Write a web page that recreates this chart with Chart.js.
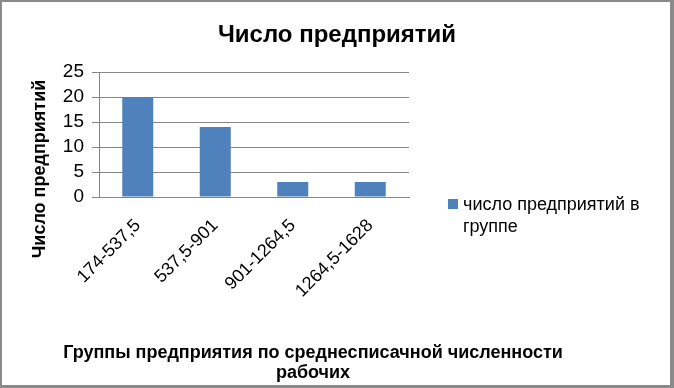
<!DOCTYPE html>
<html>
<head>
<meta charset="utf-8">
<script src="https://cdn.jsdelivr.net/npm/chart.js@4.4.0/dist/chart.umd.min.js"></script>
<style>
  html, body { margin: 0; padding: 0; background: #fff; }
  #wrap { width: 674px; height: 388px; }
</style>
</head>
<body>
<div id="wrap"><canvas id="chart" width="674" height="388"></canvas></div>
<script>
// данные с картинки
const chartTitle = 'Число предприятий';
const yTitle = 'Число предприятий';
const xTitleLines = ['Группы предприятия по среднесписачной численности', 'рабочих'];
const categories = ['174-537,5', '537,5-901', '901-1264,5', '1264,5-1628'];
const seriesName = 'число предприятий в группе';
const legendLines = ['число предприятий в', 'группе'];
const counts = [20, 14, 3, 3];
const yMax = 25;
const yStep = 5;

const FONT = "'Liberation Sans', Arial, sans-serif";
const BAR = '#4F81BD';
const GRID = '#868686';

// рамка, заголовки и легенда рисуются вручную
const decor = {
  id: 'decor',
  beforeDraw(chart) {
    const ctx = chart.ctx;
    ctx.save();
    ctx.fillStyle = '#8a8a8a';
    ctx.fillRect(0, 0, chart.width, chart.height);
    ctx.fillStyle = '#fff';
    ctx.fillRect(2, 2, chart.width - 6, chart.height - 5);
    ctx.restore();
  },
  afterDraw(chart) {
    const ctx = chart.ctx;
    ctx.save();
    ctx.fillStyle = '#000';
    ctx.textAlign = 'center';
    ctx.textBaseline = 'middle';

    ctx.font = 'bold 24px ' + FONT;
    ctx.fillText(chartTitle, 337, 35);

    ctx.font = 'bold 18px ' + FONT;
    ctx.save();
    ctx.translate(40, 169);
    ctx.rotate(-Math.PI / 2);
    ctx.fillText(yTitle, 0, 0);
    ctx.restore();

    ctx.font = 'bold 18px ' + FONT;
    xTitleLines.forEach((t, i) => ctx.fillText(t, 313, 353 + i * 20));

    // легенда
    ctx.fillStyle = BAR;
    ctx.fillRect(448, 199, 10, 10);
    ctx.fillStyle = '#000';
    ctx.textAlign = 'left';
    ctx.font = '18px ' + FONT;
    legendLines.forEach((t, i) => ctx.fillText(t, 463, 205 + i * 22));
    ctx.restore();
  }
};

new Chart(document.getElementById('chart'), {
  type: 'bar',
  data: {
    labels: categories,
    datasets: [{
      label: seriesName,
      data: counts,
      backgroundColor: BAR,
      borderWidth: 0,
      barPercentage: 0.4,
      categoryPercentage: 1
    }]
  },
  options: {
    responsive: false,
    animation: false,
    devicePixelRatio: 1,
    layout: { padding: { left: 0, top: 72, right: 265, bottom: 0 } },
    plugins: {
      legend: { display: false },
      title: { display: false },
      tooltip: { enabled: false }
    },
    scales: {
      x: {
        grid: { display: false },
        border: { display: true, color: GRID, width: 1 },
        ticks: {
          color: '#000',
          font: { family: FONT, size: 18 },
          minRotation: 45,
          maxRotation: 45,
          autoSkip: false,
          padding: 10
        },
        afterFit(s) { s.height = 191; }
      },
      y: {
        min: 0,
        max: yMax,
        grid: { color: GRID, tickLength: 7, tickColor: GRID },
        border: { display: true, color: GRID, width: 1 },
        ticks: {
          stepSize: yStep,
          autoSkip: false,
          color: '#000',
          font: { family: FONT, size: 19 },
          padding: 8
        },
        afterFit(s) { s.width = 99; }
      }
    }
  },
  plugins: [decor]
});
</script>
</body>
</html>
